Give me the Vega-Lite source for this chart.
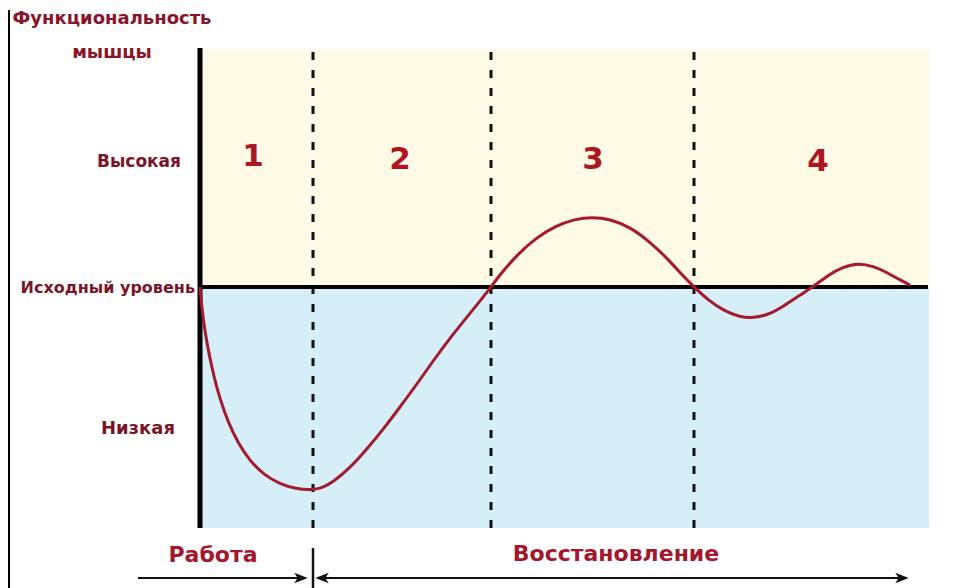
{
  "$schema": "https://vega.github.io/schema/vega-lite/v6.json",
  "width": 729,
  "height": 478,
  "autosize": "none",
  "padding": {"left": 200, "top": 50, "right": 25, "bottom": 60},
  "background": "white",
  "config": {"view": {"stroke": null}},
  "datasets": {
    "zones": [
      {"x": 0, "x2": 729, "y": 0, "y2": 237, "zone": "Высокая"},
      {"x": 0, "x2": 729, "y": -241, "y2": 0, "zone": "Низкая"}
    ],
    "phases": [
      {"x": 113, "y": -241, "y2": 237},
      {"x": 291, "y": -241, "y2": 237},
      {"x": 494, "y": -241, "y2": 237}
    ],
    "curve": [
      {"x": 0, "y": 0}, {"x": 2, "y": -22}, {"x": 5, "y": -45}, {"x": 9, "y": -67},
      {"x": 14, "y": -90}, {"x": 20, "y": -112}, {"x": 28, "y": -135}, {"x": 38, "y": -156},
      {"x": 50, "y": -174}, {"x": 64, "y": -188}, {"x": 80, "y": -197}, {"x": 96, "y": -202},
      {"x": 112, "y": -203}, {"x": 122, "y": -201}, {"x": 133, "y": -195}, {"x": 150, "y": -181},
      {"x": 167, "y": -162}, {"x": 185, "y": -140}, {"x": 200, "y": -120}, {"x": 217, "y": -97},
      {"x": 233, "y": -74}, {"x": 250, "y": -51}, {"x": 267, "y": -30}, {"x": 280, "y": -14},
      {"x": 291, "y": 0}, {"x": 302, "y": 15}, {"x": 318, "y": 33},
      {"x": 336, "y": 49}, {"x": 355, "y": 61}, {"x": 375, "y": 68}, {"x": 392, "y": 70},
      {"x": 410, "y": 68}, {"x": 430, "y": 60}, {"x": 450, "y": 45}, {"x": 468, "y": 28},
      {"x": 482, "y": 12}, {"x": 494, "y": 0}, {"x": 508, "y": -13}, {"x": 524, "y": -24},
      {"x": 540, "y": -30}, {"x": 553, "y": -31}, {"x": 568, "y": -28}, {"x": 584, "y": -19},
      {"x": 600, "y": -8}, {"x": 613, "y": 0}, {"x": 628, "y": 12}, {"x": 643, "y": 20},
      {"x": 658, "y": 24}, {"x": 673, "y": 21}, {"x": 688, "y": 14}, {"x": 700, "y": 7},
      {"x": 710, "y": 2}
    ],
    "numbers": [
      {"x": 53, "y": 130, "label": "1"},
      {"x": 200, "y": 127, "label": "2"},
      {"x": 393, "y": 127, "label": "3"},
      {"x": 618, "y": 125, "label": "4"}
    ],
    "ylabels": [
      {"x": -19, "y": 125, "label": "Высокая", "size": 17},
      {"x": -5, "y": -1, "label": "Исходный уровень", "size": 16},
      {"x": -25, "y": -142, "label": "Низкая", "size": 18}
    ],
    "ytitle": [
      {"x": -88, "y": 268, "label": "Функциональность"},
      {"x": -88, "y": 234, "label": "мышцы"}
    ],
    "xlabels": [
      {"x": 13, "y": -268, "label": "Работа"},
      {"x": 416, "y": -267, "label": "Восстановление"}
    ],
    "arrows": [
      {"x": -62, "x2": 103, "y": -291},
      {"x": 119, "x2": 704, "y": -291}
    ],
    "headsRight": [
      {"x": 101, "y": -291},
      {"x": 702, "y": -291}
    ],
    "headsLeft": [
      {"x": 122, "y": -291}
    ],
    "divider": [
      {"x": 113, "y": -261, "y2": -301}
    ],
    "axisline": [
      {"x": 0, "y": -241, "y2": 239}
    ],
    "baseline": [
      {"x": 0, "x2": 728, "y": 0}
    ],
    "border": [
      {"x": -191, "y": -301, "y2": 277}
    ]
  },
  "encoding": {
    "x": {"field": "x", "type": "quantitative", "scale": {"domain": [0, 729], "nice": false, "zero": false}, "axis": null},
    "y": {"field": "y", "type": "quantitative", "scale": {"domain": [-241, 237], "nice": false, "zero": false}, "axis": null}
  },
  "layer": [
    {
      "data": {"name": "zones"},
      "mark": {"type": "rect"},
      "encoding": {
        "x2": {"field": "x2"},
        "y2": {"field": "y2"},
        "color": {"field": "zone", "type": "nominal", "scale": {"domain": ["Высокая", "Низкая"], "range": ["#FEFAE6", "#D5EEF8"]}, "legend": null}
      }
    },
    {
      "data": {"name": "phases"},
      "mark": {"type": "rule", "color": "#111111", "strokeWidth": 3, "strokeDash": [8, 10]},
      "encoding": {"y2": {"field": "y2"}}
    },
    {
      "data": {"name": "baseline"},
      "mark": {"type": "rule", "color": "#000000", "strokeWidth": 4},
      "encoding": {"x2": {"field": "x2"}}
    },
    {
      "data": {"name": "axisline"},
      "mark": {"type": "rule", "color": "#000000", "strokeWidth": 5},
      "encoding": {"y2": {"field": "y2"}}
    },
    {
      "data": {"name": "border"},
      "mark": {"type": "rule", "color": "#000000", "strokeWidth": 2},
      "encoding": {"y2": {"field": "y2"}}
    },
    {
      "data": {"name": "curve"},
      "mark": {"type": "line", "color": "#A51A2E", "strokeWidth": 3, "interpolate": "basis"},
      "encoding": {}
    },
    {
      "data": {"name": "numbers"},
      "mark": {"type": "text", "font": "DejaVu Sans", "fontWeight": "bold", "fontSize": 31, "color": "#B0161F", "align": "center", "baseline": "middle"},
      "encoding": {"text": {"field": "label"}}
    },
    {
      "data": {"name": "ylabels"},
      "mark": {"type": "text", "font": "DejaVu Sans", "fontWeight": "bold", "color": "#7A1426", "align": "right", "baseline": "middle"},
      "encoding": {"text": {"field": "label"}, "size": {"field": "size", "type": "quantitative", "scale": null}}
    },
    {
      "data": {"name": "ytitle"},
      "mark": {"type": "text", "font": "DejaVu Sans", "fontWeight": "bold", "fontSize": 18, "color": "#8A1428", "align": "center", "baseline": "middle"},
      "encoding": {"text": {"field": "label"}}
    },
    {
      "data": {"name": "xlabels"},
      "mark": {"type": "text", "font": "DejaVu Sans", "fontWeight": "bold", "fontSize": 22, "color": "#A3162E", "align": "center", "baseline": "middle"},
      "encoding": {"text": {"field": "label"}}
    },
    {
      "data": {"name": "arrows"},
      "mark": {"type": "rule", "color": "#111111", "strokeWidth": 2},
      "encoding": {"x2": {"field": "x2"}}
    },
    {
      "data": {"name": "headsRight"},
      "mark": {"type": "point", "shape": "M-1,-0.8L1,0L-1,0.8L-0.5,0Z", "filled": true, "color": "#111111", "size": 180, "opacity": 1},
      "encoding": {}
    },
    {
      "data": {"name": "headsLeft"},
      "mark": {"type": "point", "shape": "M1,-0.8L-1,0L1,0.8L0.5,0Z", "filled": true, "color": "#111111", "size": 180, "opacity": 1},
      "encoding": {}
    },
    {
      "data": {"name": "divider"},
      "mark": {"type": "rule", "color": "#111111", "strokeWidth": 2.5},
      "encoding": {"y2": {"field": "y2"}}
    }
  ]
}
